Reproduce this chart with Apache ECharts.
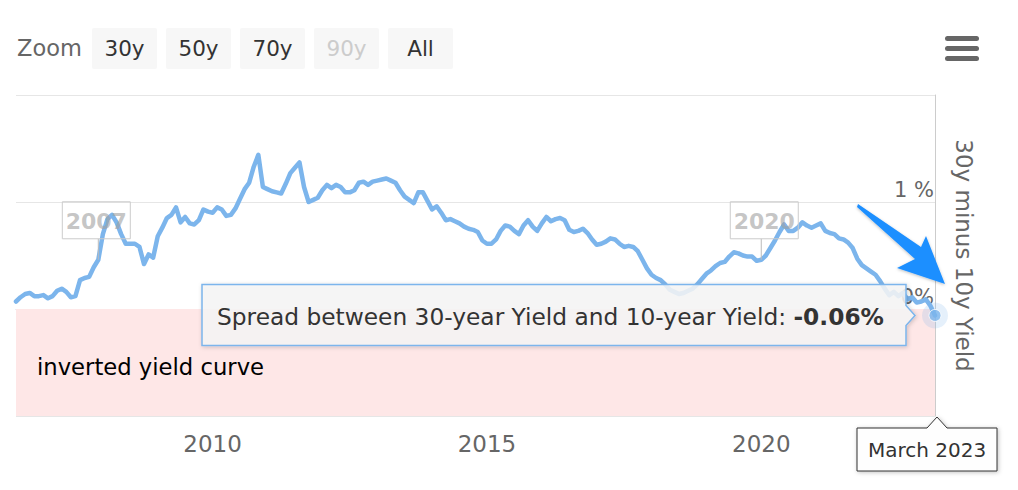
<!DOCTYPE html>
<html><head><meta charset="utf-8">
<script src="https://cdn.jsdelivr.net/npm/echarts@6/dist/echarts.min.js"></script>
<style>html,body{margin:0;padding:0;background:#fff}#c{width:1018px;height:490px}</style>
</head><body><div id="c"></div>
<script>
// ---- data (monthly 30y minus 10y spread, %) ----
const spread2006 = [0.07, 0.11, 0.14, 0.15, 0.12, 0.12, 0.13];            // Jun-Dec
const spread2007 = [0.10, 0.12, 0.17, 0.19, 0.16, 0.11, 0.12, 0.27, 0.29, 0.30, 0.39, 0.46];
const spread2008 = [0.70, 0.84, 0.88, 0.81, 0.70, 0.61, 0.61, 0.61, 0.58, 0.42, 0.51, 0.48];
const spread2009 = [0.68, 0.76, 0.85, 0.88, 0.95, 0.81, 0.86, 0.80, 0.79, 0.83, 0.93, 0.91];
const spread2010 = [0.90, 0.95, 0.93, 0.87, 0.88, 0.94, 1.03, 1.12, 1.18, 1.33, 1.44, 1.14];
const spread2011 = [1.12, 1.10, 1.09, 1.08, 1.17, 1.27, 1.32, 1.37, 1.14, 1.00, 1.02, 1.04];
const spread2012 = [1.11, 1.16, 1.13, 1.16, 1.14, 1.09, 1.09, 1.11, 1.18, 1.19, 1.16, 1.19];
const spread2013 = [1.20, 1.21, 1.22, 1.20, 1.18, 1.11, 1.05, 1.02, 0.99, 1.09, 1.09, 1.01];
const spread2014 = [0.93, 0.96, 0.90, 0.83, 0.84, 0.82, 0.80, 0.77, 0.75, 0.74, 0.72, 0.64];
const spread2015 = [0.61, 0.61, 0.65, 0.73, 0.78, 0.77, 0.73, 0.70, 0.78, 0.83, 0.77, 0.73];
const spread2016 = [0.80, 0.86, 0.82, 0.84, 0.85, 0.83, 0.74, 0.72, 0.73, 0.75, 0.71, 0.65];
const spread2017 = [0.60, 0.61, 0.63, 0.66, 0.65, 0.61, 0.58, 0.59, 0.58, 0.54, 0.46, 0.38];
const spread2018 = [0.32, 0.29, 0.27, 0.23, 0.18, 0.16, 0.14, 0.15, 0.17, 0.19, 0.23, 0.28];
const spread2019 = [0.33, 0.36, 0.40, 0.43, 0.44, 0.49, 0.53, 0.52, 0.50, 0.49, 0.49, 0.45];
const spread2020 = [0.46, 0.50, 0.57, 0.64, 0.72, 0.79, 0.73, 0.73, 0.76, 0.81, 0.78, 0.76];
const spread2021 = [0.78, 0.80, 0.73, 0.71, 0.70, 0.66, 0.65, 0.62, 0.57, 0.47, 0.41, 0.38];
const spread2022 = [0.35, 0.32, 0.26, 0.19, 0.13, 0.16, 0.12, 0.15, 0.09, 0.11, 0.06, 0.07];
const spread2023 = [0.09, 0.03, -0.06];                                      // Jan-Mar

const yearBlocks = [
  [2006, 6, spread2006], [2007, 1, spread2007], [2008, 1, spread2008], [2009, 1, spread2009],
  [2010, 1, spread2010], [2011, 1, spread2011], [2012, 1, spread2012], [2013, 1, spread2013],
  [2014, 1, spread2014], [2015, 1, spread2015], [2016, 1, spread2016], [2017, 1, spread2017],
  [2018, 1, spread2018], [2019, 1, spread2019], [2020, 1, spread2020], [2021, 1, spread2021],
  [2022, 1, spread2022], [2023, 1, spread2023]
];
const xTickYears = [2010, 2015, 2020];
const zoomButtons = ['30y', '50y', '70y', '90y', 'All'];
const disabledButton = '90y';
const annotationPoints = [['2007', 2007, 12], ['2020', 2020, 1]];
const seriesName = 'Spread between 30-year Yield and 10-year Yield';
const yAxisTitle = '30y minus 10y Yield';
const bandLabel = 'inverted yield curve';
const monthNames = ['January','February','March','April','May','June','July','August','September','October','November','December'];

// ---- build ----
const t = (y, m) => y + (m - 1) / 12;   // fractional year
const seriesData = [];
yearBlocks.forEach(([y, m0, arr]) => arr.forEach((v, i) => seriesData.push([t(y, m0 + i), v])));
const last = seriesData[seriesData.length - 1];
const first = seriesData[0];
const FONT = 'DejaVu Sans';

const chart = echarts.init(document.getElementById('c'), null, {renderer: 'svg'});
chart.setOption({
  animation: false,
  textStyle: {fontFamily: FONT},
  grid: {left: 16, right: 83, top: 95, bottom: 74},
  xAxis: {
    type: 'value', min: first[0], max: last[0],
    axisLine: {lineStyle: {color: '#ccd6eb'}},
    axisTick: {show: true, length: 10, lineStyle: {color: '#ccd6eb'}, customValues: xTickYears},
    axisLabel: {customValues: xTickYears, formatter: v => String(Math.round(v)),
      color: '#666', fontSize: 23, margin: 16, fontFamily: FONT},
    splitLine: {show: false}
  },
  yAxis: {
    type: 'value', position: 'right', min: -1, max: 2, interval: 1,
    axisLine: {show: true, lineStyle: {color: '#cccccc'}},
    axisTick: {show: false},
    splitLine: {lineStyle: {color: '#e6e6e6'}},
    axisLabel: {inside: true, showMaxLabel: false, margin: 1,
      formatter: v => v === 0 ? '0%' : (v < 0 ? '-' + Math.abs(v) : v) + ' %',
      color: '#666', fontSize: 21, verticalAlign: 'bottom', padding: [0, 0, 2, 0], fontFamily: FONT},
    name: yAxisTitle, nameLocation: 'middle', nameRotate: -90, nameGap: 17,
    nameTextStyle: {color: '#666', fontSize: 23, fontFamily: FONT}
  },
  series: [{
    type: 'line', name: seriesName, data: seriesData, showSymbol: false,
    lineStyle: {color: '#7cb5ec', width: 4.5, join: 'round', cap: 'round'},
    markArea: {silent: true, itemStyle: {color: '#fee7e7'},
      label: {show: true, position: [21, 58], verticalAlign: 'middle', color: '#000', fontSize: 22.7, fontFamily: FONT},
      data: [[{yAxis: 0, name: bandLabel}, {yAxis: -1}]]}
  }, {
    type: 'scatter', data: [last], symbolSize: 26, silent: true,
    itemStyle: {color: 'rgba(124,181,236,0.25)'}, z: 5
  }, {
    type: 'scatter', data: [last], symbolSize: 12, silent: true,
    itemStyle: {color: '#7cb5ec', borderColor: '#fff', borderWidth: 1}, z: 6
  }]
});

// ---- decorations positioned from data ----
const px = d => chart.convertToPixel({gridIndex: 0}, d);
const g = [];
g.push({type: 'text', x: 17, y: 48, style: {text: 'Zoom', fontSize: 22.5, fill: '#666', fontFamily: FONT, verticalAlign: 'middle'}});
const btnX = [92, 166, 240, 314, 388];
zoomButtons.forEach((b, i) => {
  g.push({type: 'rect', shape: {x: btnX[i], y: 28, width: 65, height: 41, r: 2}, style: {fill: '#f7f7f7'}});
  g.push({type: 'text', x: btnX[i] + 32.5, y: 48.5, style: {text: b, fontSize: 21.5, fill: b === disabledButton ? '#cccccc' : '#333',
    fontFamily: FONT, align: 'center', verticalAlign: 'middle'}});
});
[36, 46, 56].forEach(y => g.push({type: 'rect', shape: {x: 945, y: y, width: 34, height: 5, r: 2.5}, style: {fill: '#666'}}));

annotationPoints.forEach(([label, y, m]) => {
  const idx = seriesData.findIndex(d => Math.abs(d[0] - t(y, m)) < 1e-6);
  const p = px(seriesData[idx]);
  const w = 68, h = 37, bottom = p[1] - 21, cx = p[0] + (label === '2020' ? 3 : -2);
  g.push({type: 'line', shape: {x1: p[0], y1: bottom, x2: p[0], y2: p[1]}, style: {stroke: '#bbbbbb', lineWidth: 1}, z: 10});
  g.push({type: 'rect', shape: {x: cx - w / 2, y: bottom - h, width: w, height: h}, style: {fill: 'rgba(255,255,255,0.01)', stroke: '#cccccc', lineWidth: 1}, z: 10});
  g.push({type: 'text', x: cx, y: bottom - h / 2 + 1, style: {text: label, fontSize: 22, fontWeight: 'bold', fill: 'rgba(160,160,160,0.6)',
    fontFamily: FONT, align: 'center', verticalAlign: 'middle'}, z: 11});
});

g.push({type: 'polygon', shape: {points: [[858, 204], [921, 247], [926, 236], [945, 284], [897, 268], [915, 259], [857, 207]]},
  style: {fill: '#1e8fff', shadowBlur: 3, shadowColor: 'rgba(0,0,0,0.25)', shadowOffsetY: 1}, z: 20});

const lp = px(last);
const tipX = lp[0] - 20, boxR = tipX - 9, boxL = 202, boxT = lp[1] - 31, boxB = lp[1] + 30;
g.push({type: 'polygon', shape: {points: [[boxL, boxT], [boxR, boxT], [boxR, lp[1] - 10], [tipX, lp[1]], [boxR, lp[1] + 10], [boxR, boxB], [boxL, boxB]]},
  style: {fill: 'rgba(247,247,247,0.85)', stroke: '#7cb5ec', lineWidth: 1.5, shadowBlur: 4, shadowColor: 'rgba(0,0,0,0.2)', shadowOffsetX: 1, shadowOffsetY: 1}, z: 30});
g.push({type: 'text', x: 217, y: lp[1] + 1, style: {
  text: '{a|' + seriesName + ': }{b|' + last[1].toFixed(2) + '%}',
  rich: {a: {fontSize: 23.3, fill: '#333', fontFamily: FONT}, b: {fontSize: 23.3, fill: '#333', fontWeight: 'bold', fontFamily: FONT}},
  verticalAlign: 'middle'}, z: 31});

const ax = lp[0] + 2, ay = 417;
const lastYear = Math.floor(last[0] + 1e-6), lastMonth = Math.round((last[0] - lastYear) * 12);
g.push({type: 'polygon', shape: {points: [[857, 428], [ax - 10, 428], [ax, ay], [ax + 10, 428], [997, 428], [997, 471], [857, 471]]},
  style: {fill: 'rgba(255,255,255,0.95)', stroke: '#333', lineWidth: 1, shadowBlur: 4, shadowColor: 'rgba(0,0,0,0.25)', shadowOffsetX: 1, shadowOffsetY: 1}, z: 30});
g.push({type: 'text', x: 927, y: 450, style: {text: monthNames[lastMonth] + ' ' + lastYear, fontSize: 20, fill: '#333',
  fontFamily: FONT, align: 'center', verticalAlign: 'middle'}, z: 31});

chart.setOption({graphic: g});
</script></body></html>
